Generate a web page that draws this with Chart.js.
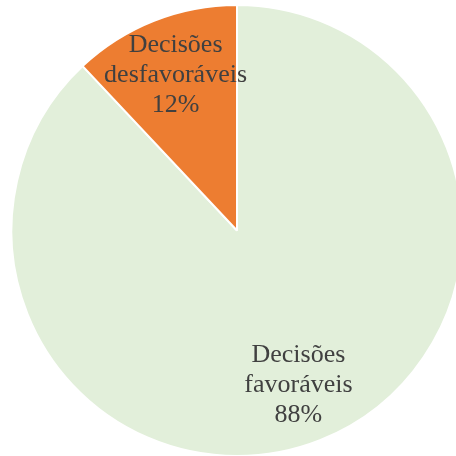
<!DOCTYPE html>
<html>
<head>
<meta charset="utf-8">
<script src="https://cdn.jsdelivr.net/npm/chart.js@4/dist/chart.umd.min.js"></script>
<style>
  html, body { margin: 0; padding: 0; background: #fff; overflow: hidden; }
  #wrap { position: absolute; left: 0; top: 0; width: 474px; height: 462px; }
</style>
</head>
<body>
<div id="wrap"><canvas id="pie"></canvas></div>
<script>
// Dados do gráfico
const labels = [['Decisões', 'favoráveis'], ['Decisões', 'desfavoráveis']];
const values = [88, 12];
const colors = ['#E2EFDA', '#ED7D31'];

// rótulos de dados desenhados dentro das fatias
const sliceLabels = {
  id: 'sliceLabels',
  afterDatasetsDraw(chart) {
    const ctx = chart.ctx;
    const meta = chart.getDatasetMeta(0);
    const total = values.reduce((a, b) => a + b, 0);
    ctx.save();
    ctx.font = '26px "Liberation Serif", "Times New Roman", serif';
    ctx.fillStyle = '#404040';
    ctx.textAlign = 'center';
    ctx.textBaseline = 'middle';
    meta.data.forEach((arc, i) => {
      const mid = (arc.startAngle + arc.endAngle) / 2;
      const r = arc.outerRadius * 0.74;
      const x = arc.x + Math.cos(mid) * r;
      const y = arc.y + Math.sin(mid) * r;
      const lines = [...labels[i], Math.round(values[i] / total * 100) + '%'];
      const lh = 30;
      lines.forEach((t, k) => {
        ctx.fillText(t, x, y + (k - (lines.length - 1) / 2) * lh);
      });
    });
    ctx.restore();
  }
};

new Chart(document.getElementById('pie'), {
  type: 'pie',
  data: {
    labels: labels.map(l => l.join(' ')),
    datasets: [{
      data: values,
      backgroundColor: colors,
      borderColor: '#ffffff',
      borderWidth: 2,
    }],
  },
  options: {
    responsive: true,
    maintainAspectRatio: false,
    animation: false,
    layout: { padding: { top: 4, bottom: 5, left: 6, right: 6 } },
    plugins: {
      legend: { display: false },
      tooltip: { enabled: false },
    },
  },
  plugins: [sliceLabels],
});
</script>
</body>
</html>
